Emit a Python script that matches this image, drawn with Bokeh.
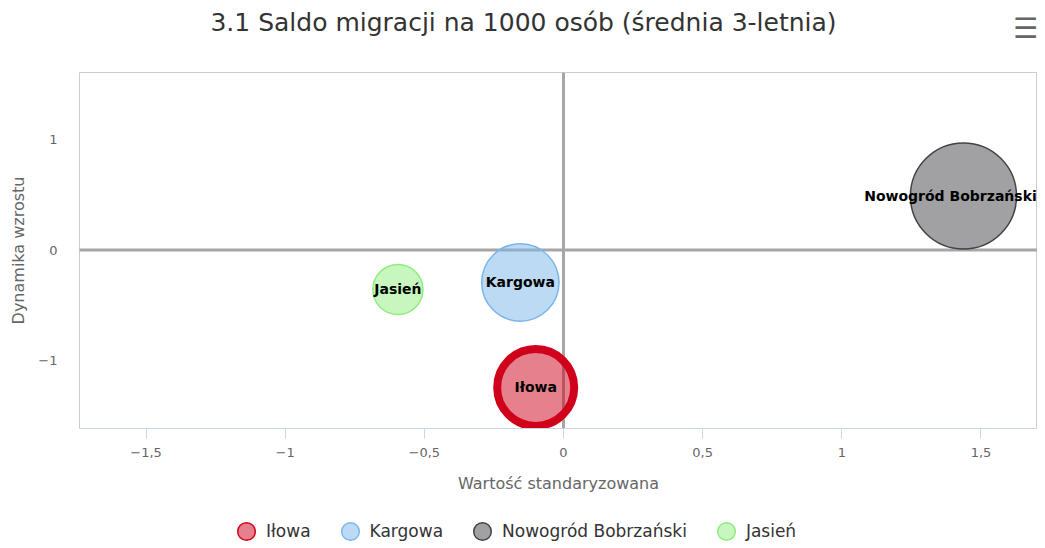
import math
from bokeh.plotting import figure
from bokeh.layouts import column
from bokeh.models import (Range1d, FixedTicker, Span, Legend, LegendItem,
                          ColumnDataSource, Label)
from bokeh.core.properties import value
from bokeh.embed import file_html
from bokeh.resources import INLINE

# ---- data ----
names = ["Iłowa", "Kargowa", "Nowogród Bobrzański", "Jasień"]
x_vals = [-0.10, -0.155, 1.437, -0.595]
y_vals = [-1.244, -0.294, 0.489, -0.357]
z_vals = [5.9, 5.95, 11.2, 2.5]
colors = ["#d0021b", "#7cb5ec", "#434348", "#90ed7d"]
outline_w = [8, 1.5, 1.5, 1.5]
label_shift = [0, 0, -13, 0]   # px, keeps the label inside the plot area

x_ticks = [-1.5, -1.0, -0.5, 0.0, 0.5, 1.0, 1.5]
x_tick_labels = ["−1,5", "−1", "−0,5", "0", "0,5", "1", "1,5"]
y_ticks = [-1, 0, 1]
y_tick_labels = ["−1", "0", "1"]

title_text = "3.1 Saldo migracji na 1000 osób (średnia 3-letnia)"
x_title = "Wartość standaryzowana"
y_title = "Dynamika wzrostu"

FONT = "DejaVu Sans"
SIZE_K = 31.7  # px per sqrt(z)
W = 1037


def blank_strip(h):
    f = figure(width=W, height=h, output_backend="svg", toolbar_location=None,
               x_range=Range1d(10, 11), y_range=Range1d(10, 11),
               x_axis_type=None, y_axis_type=None, min_border=0,
               outline_line_color=None, background_fill_color="white",
               border_fill_color="white")
    f.xgrid.visible = False
    f.ygrid.visible = False
    return f


# ---- title strip ----
ts = blank_strip(44)
ts.add_layout(Label(x=444, y=22, x_units="screen", y_units="screen",
                    text=title_text, text_align="center",
                    text_baseline="middle", text_font=FONT,
                    text_font_size="25px", text_color="#333333"))
ts.add_layout(Label(x=946, y=16, x_units="screen", y_units="screen",
                    text="☰", text_align="center", text_baseline="middle",
                    text_font=FONT, text_font_size="28px",
                    text_color="#666666"))

# ---- main chart ----
p = figure(width=W, height=476, output_backend="svg", toolbar_location=None,
           x_range=Range1d(-1.739, 1.703), y_range=Range1d(-1.615, 1.606),
           min_border_left=79, min_border_right=0, min_border_top=28,
           min_border_bottom=92, background_fill_color="white",
           border_fill_color="white")

p.outline_line_color = "#cccccc"
p.outline_line_width = 1
p.xgrid.visible = False
p.ygrid.visible = False

xa = p.xaxis[0]
xa.ticker = FixedTicker(ticks=x_ticks)
xa.major_label_overrides = {t: l for t, l in zip(x_ticks, x_tick_labels)}
xa.axis_line_color = "#ccd6eb"
xa.major_tick_line_color = "#ccd6eb"
xa.major_tick_out = 10
xa.major_tick_in = 0
xa.minor_tick_line_color = None
xa.major_label_text_font = FONT
xa.major_label_text_font_size = "13px"
xa.major_label_text_color = "#666666"
xa.major_label_standoff = 9
xa.axis_label = x_title
xa.axis_label_text_font = FONT
xa.axis_label_text_font_size = "16px"
xa.axis_label_text_font_style = "normal"
xa.axis_label_text_color = "#666666"
xa.axis_label_standoff = 14

ya = p.yaxis[0]
ya.ticker = FixedTicker(ticks=y_ticks)
ya.major_label_overrides = {t: l for t, l in zip(y_ticks, y_tick_labels)}
ya.axis_line_color = None
ya.major_tick_line_color = None
ya.minor_tick_line_color = None
ya.major_tick_out = 0
ya.major_tick_in = 0
ya.major_label_text_font = FONT
ya.major_label_text_font_size = "13px"
ya.major_label_text_color = "#666666"
ya.major_label_standoff = 22
ya.axis_label = y_title
ya.axis_label_text_font = FONT
ya.axis_label_text_font_size = "16px"
ya.axis_label_text_font_style = "normal"
ya.axis_label_text_color = "#666666"
ya.axis_label_standoff = 7

# zero lines
p.add_layout(Span(location=0, dimension="width", line_color="#a6a6a6",
                  line_width=3, level="underlay"))
p.add_layout(Span(location=0, dimension="height", line_color="#a6a6a6",
                  line_width=3, level="underlay"))

# bubbles
for i, nm in enumerate(names):
    src = ColumnDataSource(dict(x=[x_vals[i]], y=[y_vals[i]], z=[z_vals[i]],
                                s=[SIZE_K * math.sqrt(z_vals[i])], name=[nm]))
    p.scatter("x", "y", source=src, size="s", marker="circle",
              fill_color=colors[i], fill_alpha=0.5, line_color=colors[i],
              line_width=outline_w[i])

lab_src = ColumnDataSource(dict(x=x_vals, y=y_vals, name=names, dx=label_shift))
p.text("x", "y", text="name", source=lab_src, x_offset="dx",
       text_align="center", text_baseline="middle", text_font=value(FONT),
       text_font_size="14px", text_font_style="bold", text_color="#000000")

# ---- legend strip ----
lf = blank_strip(22)
legend_items = []
for i, nm in enumerate(names):
    key = lf.ellipse(x=[x_vals[i]], y=[y_vals[i]], width=1, height=1,
                     width_units="screen", height_units="screen",
                     fill_color=colors[i], fill_alpha=0.5,
                     line_color=colors[i], line_width=1.5)
    legend_items.append(LegendItem(label=nm, renderers=[key]))

legend = Legend(items=legend_items, orientation="horizontal",
                location=(156, 0), padding=0, margin=0, spacing=28,
                glyph_width=22, glyph_height=22, label_standoff=9,
                label_text_font=FONT, label_text_font_size="17px",
                label_text_color="#333333", border_line_color=None,
                background_fill_alpha=0)
lf.add_layout(legend, "center")

open("out.html", "w").write(file_html(column(ts, p, lf, spacing=0), INLINE))
